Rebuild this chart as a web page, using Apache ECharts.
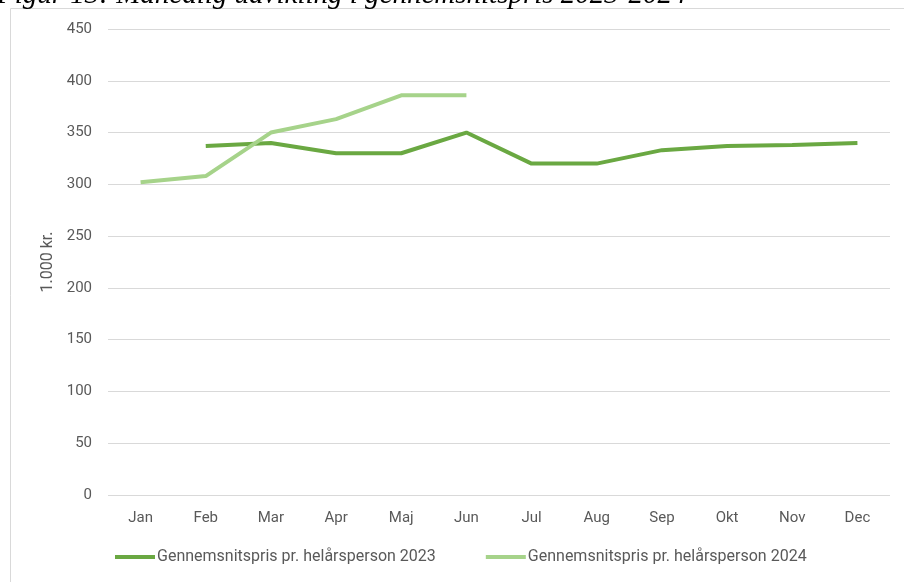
<!DOCTYPE html>
<html>
<head>
<meta charset="utf-8">
<script src="https://cdn.jsdelivr.net/npm/echarts@6/dist/echarts.min.js"></script>
<style>
    html, body { margin: 0; padding: 0; background: #fff; }
    #chart { width: 904px; height: 582px; }
</style>
</head>
<body>
<div id="chart"></div>
<script>
    // data
    const months = ['Jan', 'Feb', 'Mar', 'Apr', 'Maj', 'Jun', 'Jul', 'Aug', 'Sep', 'Okt', 'Nov', 'Dec'];
    const pris2023 = [null, 337, 340, 330, 330, 350, 320, 320, 333, 337, 338, 340];
    const pris2024 = [302, 308, 350, 363, 386, 386];
    const name2023 = 'Gennemsnitspris pr. helårsperson 2023';
    const name2024 = 'Gennemsnitspris pr. helårsperson 2024';

    const txt = '#595959';
    const font = 'Roboto';

    const chart = echarts.init(document.getElementById('chart'));
    chart.setOption({
        animation: false,
        color: ['#6aa842', '#a6d38a'],
        graphic: [
            {
                type: 'rect',
                shape: { x: 10.5, y: 8.5, width: 1000, height: 700 },
                style: { fill: 'none', stroke: '#d9d9d9', lineWidth: 1 }
            },
            {
                // caption, cut off by the top edge
                type: 'text',
                x: -3,
                y: -5,
                style: {
                    text: 'Figur 13: Månedlig udvikling i gennemsnitspris 2023-2024',
                    font: 'italic 29px "Liberation Serif"',
                    fill: '#000',
                    verticalAlign: 'middle'
                }
            }
        ],
        grid: { left: 108, right: 14, top: 29, bottom: 87 },
        legend: {
            bottom: 12,
            left: 110,
            itemWidth: 40,
            itemHeight: 4,
            itemGap: 50,
            icon: 'rect',
            textStyle: { color: txt, fontSize: 16, fontFamily: font, padding: [0, 0, 0, -3] },
            data: [name2023, name2024]
        },
        xAxis: {
            type: 'category',
            data: months,
            boundaryGap: true,
            axisLine: { show: false },
            axisTick: { show: false },
            axisLabel: { color: txt, fontSize: 15, fontFamily: font, margin: 16 }
        },
        yAxis: {
            type: 'value',
            min: 0,
            max: 450,
            interval: 50,
            name: '1.000 kr.',
            nameLocation: 'middle',
            nameGap: 50,
            nameRotate: 90,
            nameTextStyle: { color: txt, fontSize: 16, fontFamily: font },
            axisLine: { show: false },
            axisTick: { show: false },
            axisLabel: { color: txt, fontSize: 15, fontFamily: font, margin: 16 },
            splitLine: { lineStyle: { color: '#d9d9d9', width: 1 } }
        },
        series: [
            {
                name: name2023,
                type: 'line',
                data: pris2023,
                symbol: 'none',
                lineStyle: { width: 4 }
            },
            {
                name: name2024,
                type: 'line',
                data: pris2024,
                symbol: 'none',
                lineStyle: { width: 4 }
            }
        ]
    });
</script>
</body>
</html>
